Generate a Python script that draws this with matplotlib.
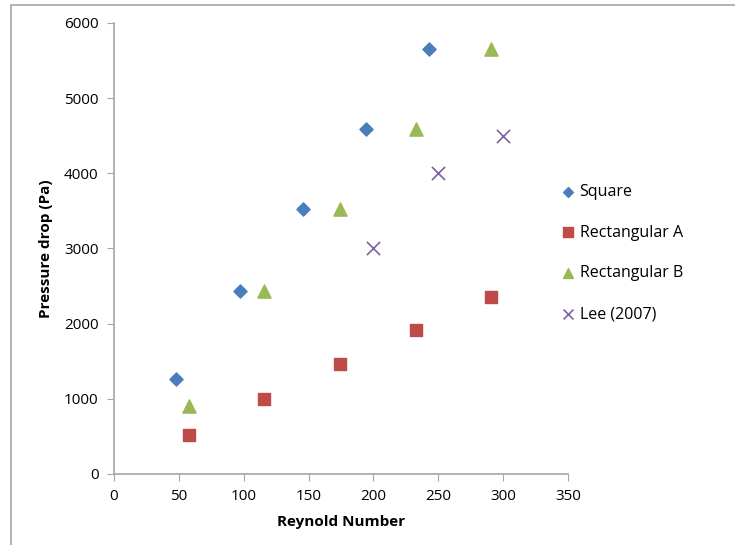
import matplotlib
matplotlib.use("Agg")
import matplotlib.pyplot as plt
from matplotlib.patches import Rectangle

square_x = [48, 97, 146, 194, 243]
square_y = [1270, 2430, 3520, 4590, 5650]
rect_a_x = [58, 116, 174, 233, 291]
rect_a_y = [520, 1000, 1460, 1920, 2360]
rect_b_x = [58, 116, 174, 233, 291]
rect_b_y = [910, 2430, 3520, 4590, 5650]
lee_x = [200, 250, 300]
lee_y = [3000, 4000, 4500]

plt.rcParams['font.family'] = ['Open Sans', 'DejaVu Sans']

fig = plt.figure(figsize=(7.35, 5.45), dpi=100)
ax = fig.add_axes([0.1551, 0.1303, 0.6177, 0.8275])

ax.scatter(square_x, square_y, marker='D', s=45, color='#4a7ebb', label='Square', zorder=3)
ax.scatter(rect_a_x, rect_a_y, marker='s', s=80, color='#be4b48', label='Rectangular A', zorder=3)
ax.scatter(rect_b_x, rect_b_y, marker='^', s=90, color='#98b954', label='Rectangular B', zorder=3)
ax.scatter(lee_x, lee_y, marker='x', s=90, color='#7d60a0', linewidths=1.2, label='Lee (2007)', zorder=3)

ax.set_xlim(0, 350)
ax.set_ylim(0, 6000)
ax.set_xticks(range(0, 351, 50))
ax.set_yticks(range(0, 6001, 1000))
for s in ['top', 'right']:
    ax.spines[s].set_visible(False)
for s in ['left', 'bottom']:
    ax.spines[s].set_color('#a6a6a6')
    ax.spines[s].set_linewidth(1.2)
ax.tick_params(direction='out', length=5, color='#a6a6a6', labelsize=11, pad=6)
ax.set_xlabel('Reynold Number', fontsize=11, fontweight='bold', labelpad=8)
ax.set_ylabel('Pressure drop (Pa)', fontsize=11, fontweight='bold', labelpad=8)

leg = ax.legend(loc='center left', bbox_to_anchor=(0.948, 0.49), frameon=False,
                fontsize=11.5, labelspacing=1.55, handletextpad=0.1, handlelength=1.2,
                markerscale=0.75)

fig.patches.append(Rectangle((11/735, -0.1), 1.2, 1 - 5/545 + 0.1, transform=fig.transFigure,
                             fill=False, edgecolor='#a6a6a6', linewidth=1.2, figure=fig))

fig.savefig('out.png', dpi=100)
